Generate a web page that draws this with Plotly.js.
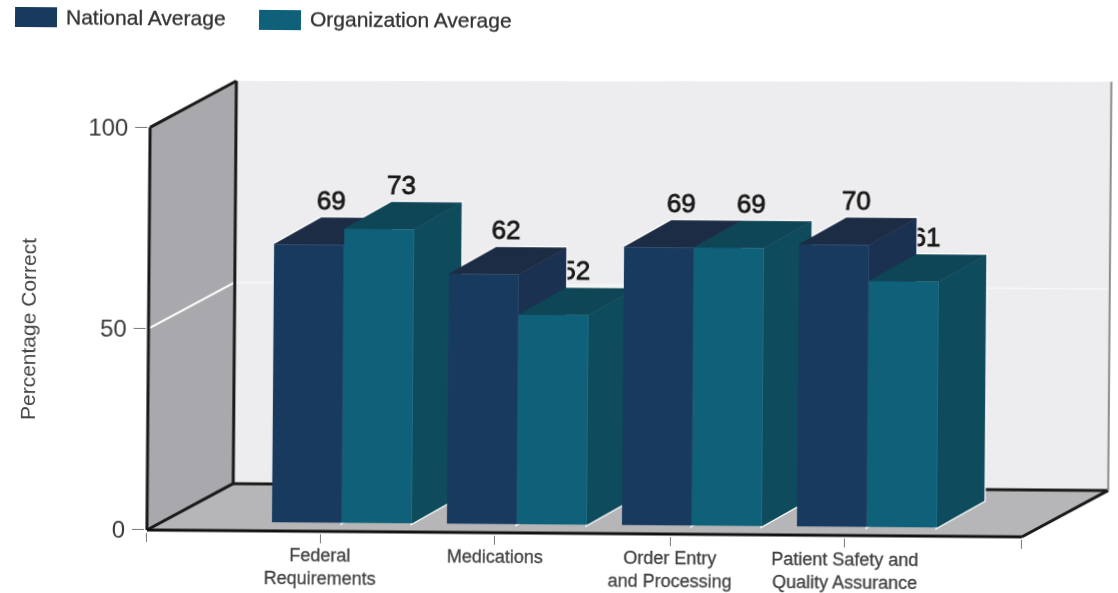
<!DOCTYPE html>
<html>
<head>
<meta charset="utf-8">
<script src="https://cdn.plot.ly/plotly-3.0.1.min.js"></script>
<style>
html,body{margin:0;padding:0;background:#fff;overflow:hidden;width:1118px;height:593px;position:relative}
#chart{position:absolute;left:0;top:-30px;width:1118px;height:623px;transform:rotate(0.45deg);transform-origin:147px 560px;filter:blur(0.45px)}
#chart .textpoint text{stroke:#111;stroke-width:.8px}
#chart .xtick text{stroke:#444;stroke-width:.3px}
#chart .legendtext{stroke:#333;stroke-width:.3px}
#chart .legend .scrollbox{clip-path:none}
</style>
</head>
<body>
<div id="chart"></div>
<script>
const categories = ["Federal<br>Requirements", "Medications", "Order Entry<br>and Processing", "Patient Safety and<br>Quality Assurance"];
const categoryPos = [0, 1, 2, 3];
const nationalValues = [69, 62, 69, 70];
const organizationValues = [73, 52, 69, 61];

const seriesNames = ["National Average", "Organization Average"];
const colors = {
  natFront: "#183a5e", natSide: "#1a3152", natTop: "#1c2c44",
  orgFront: "#0f6079", orgSide: "#0e4b5c", orgTop: "#0f4656"
};
const barW = 0.40, natOff = -0.275, orgOff = 0.125;
const lift = 2.2, bdx = 0.269, bdy = 6.7;
const wdx = 0.491, wdy = 11.7;
const xL = -0.989, xR = 4.011;
const xRange = [-1.0, 4.52], yRange = [-0.5, 114];
const labelDx = 0.125, labelDy = 10.4;
const TOP = 30, H = 593 + TOP;
const ML = 145, MT = 71 + TOP, MB = 61, PW = 966, PH = H - MT - MB;

const traces = [];
function poly(xs, ys, color) {
  return {type:"scatter", mode:"lines", x:[...xs, xs[0]], y:[...ys, ys[0]], fill:"toself", fillcolor:color,
    line:{color:color, width:0.5}, showlegend:false, hoverinfo:"skip", xaxis:"x", yaxis:"y"};
}
function faces(left, v) {
  const r = left + barW, t = lift + v;
  return {
    top:  [[left, r, r+bdx, left+bdx], [t, t, t+bdy, t+bdy]],
    side: [[r, r+bdx, r+bdx, r], [t, t+bdy, lift+bdy, lift]]
  };
}
// data labels of the organization series sit behind the faces
traces.push({type:"scatter", mode:"text", x:categoryPos.map(p=>p+orgOff+barW/2+labelDx), y:organizationValues.map(v=>v+lift+labelDy),
  text:organizationValues.map(String), textposition:"middle center", textfont:{family:"Liberation Sans", size:26, color:"#1c1c1c"},
  showlegend:false, hoverinfo:"skip", xaxis:"x", yaxis:"y"});
// white scan halo round the silhouette
categoryPos.forEach((p,i)=>{
  [[natOff,nationalValues[i]],[orgOff,organizationValues[i]]].forEach(([o,v])=>{
    const f = faces(p+o, v);
    ["top","side"].forEach(k=>{
      const h = poly(f[k][0], f[k][1], "#ffffff"); h.line.width = 3; traces.push(h);
    });
  });
});
categoryPos.forEach((p,i)=>{
  const n = faces(p+natOff, nationalValues[i]);
  traces.push(poly(n.side[0], n.side[1], colors.natSide));
  traces.push(poly(n.top[0], n.top[1], colors.natTop));
  const g = faces(p+orgOff, organizationValues[i]);
  traces.push(poly(g.side[0], g.side[1], colors.orgSide));
  traces.push(poly(g.top[0], g.top[1], colors.orgTop));
});
traces.push({type:"bar", name:seriesNames[0], x:categoryPos, y:nationalValues, base:lift, width:barW, offset:natOff,
  marker:{color:colors.natFront, line:{width:0}}, xaxis:"x2", yaxis:"y2"});
traces.push({type:"bar", name:seriesNames[1], x:categoryPos, y:organizationValues, base:lift, width:barW, offset:orgOff,
  marker:{color:colors.orgFront, line:{width:0}}, xaxis:"x2", yaxis:"y2"});
traces.push({type:"scatter", mode:"text", x:categoryPos.map(p=>p+natOff+barW/2+labelDx), y:nationalValues.map(v=>v+lift+labelDy),
  text:nationalValues.map(String), textposition:"middle center", textfont:{family:"Liberation Sans", size:26, color:"#1c1c1c"},
  showlegend:false, hoverinfo:"skip", xaxis:"x2", yaxis:"y2"});

function dataPath(pts){ return "M"+pts.map(p=>p[0]+","+p[1]).join("L")+"Z"; }
function seg(x0,y0,x1,y1,color,w){ return {type:"line",xref:"x",yref:"y",x0,y0,x1,y1,layer:"below",line:{color,width:w}}; }
function px(x){ return (x-ML)/PW; }
function py(y){ return (H-MB-(y+TOP))/PH; }
const topRight = 100 + wdy + 1.5;
const shapes = [
  {type:"path",xref:"x",yref:"y",layer:"below",line:{width:0},fillcolor:"#ededef",
   path:dataPath([[xL+wdx,wdy],[xR+wdx,wdy],[xR+wdx,topRight],[xL+wdx,100+wdy]])},
  {type:"path",xref:"x",yref:"y",layer:"below",line:{width:0},fillcolor:"#a9a9ad",
   path:dataPath([[xL,0],[xL+wdx,wdy],[xL+wdx,100+wdy],[xL,100]])},
  {type:"path",xref:"x",yref:"y",layer:"below",line:{width:0},fillcolor:"#b6b6b9",
   path:dataPath([[xL,0],[xR,0],[xR+wdx,wdy],[xL+wdx,wdy]])},
  seg(xL,50,xL+wdx,50+wdy,"#ffffff",2),
  seg(xL+wdx,50+wdy,xR+wdx,50+wdy,"#f8f8f8",1.5),
  seg(xL,0,xL,100,"#1a1a1a",3),
  seg(xL,100,xL+wdx,100+wdy,"#1a1a1a",3),
  seg(xL+wdx,wdy,xL+wdx,100+wdy,"#1a1a1a",3),
  seg(xL,0,xL+wdx,wdy,"#1a1a1a",3),
  seg(xL+wdx,wdy,xR+wdx,wdy,"#1a1a1a",3),
  seg(xR,0,xR+wdx,wdy,"#1a1a1a",3),
  seg(xL,0,xR,0,"#111111",3),
  seg(xR+wdx,wdy,xR+wdx,topRight,"#8c8c8c",2),
  {type:"rect",xref:"paper",yref:"paper",x0:px(11),x1:px(53),y0:py(28),y1:py(8),line:{width:0},fillcolor:colors.natFront},
  {type:"rect",xref:"paper",yref:"paper",x0:px(255),x1:px(297),y0:py(29),y1:py(9),line:{width:0},fillcolor:colors.orgFront}
];
const annotations = [
  {text:"Percentage Correct", xref:"paper", yref:"paper", x:px(26), y:py(330), textangle:-90, showarrow:false,
   xanchor:"center", yanchor:"middle", font:{size:21, color:"#444444"}}
];

const layout = {
  width:1118, height:H, margin:{l:ML, t:MT, r:1118-ML-PW, b:MB, pad:0},
  paper_bgcolor:"#ffffff", plot_bgcolor:"rgba(0,0,0,0)", barmode:"overlay", showlegend:true,
  font:{family:"Liberation Sans", color:"#3a3a3a"},
  legend:{orientation:"h", x:px(10), y:py(-3), xanchor:"left", yanchor:"top", itemwidth:42, bgcolor:"rgba(0,0,0,0)",
    entrywidth:187, entrywidthmode:"pixels", font:{size:21, color:"#333333"}, itemclick:false, itemdoubleclick:false},
  xaxis:{range:xRange, tickmode:"array", tickvals:[xL, ...categoryPos, xR], ticktext:["", ...categories, ""],
    ticks:"outside", ticklen:9, tickcolor:"#777777", tickwidth:1, showgrid:false, zeroline:false, showline:false,
    tickfont:{size:18, color:"#3f3f3f"}, tickangle:0, ticklabelstandoff:-4},
  yaxis:{range:yRange, tickmode:"array", tickvals:[0,50,100], ticktext:["0","50","100"], ticks:"outside", ticklen:12,
    tickcolor:"#777777", tickwidth:1, showgrid:false, zeroline:false, showline:false, tickfont:{size:24, color:"#3a3a3a"},
    ticklabelstandoff:2},
  xaxis2:{range:xRange, overlaying:"x", anchor:"y2", visible:false},
  yaxis2:{range:yRange, overlaying:"y", anchor:"x2", visible:false},
  shapes, annotations
};
Plotly.newPlot("chart", traces, layout, {displayModeBar:false});
</script>
</body>
</html>
